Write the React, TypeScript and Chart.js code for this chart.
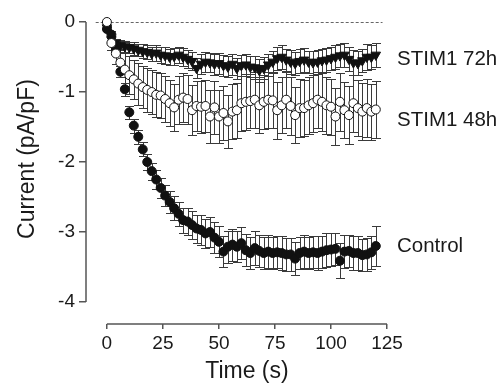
import { useEffect, useRef } from 'react';
import { Chart, registerables } from 'chart.js';

Chart.register(...registerables);

const timeS = [0, 2, 4, 6, 8, 10, 12, 14, 16, 18, 20, 22, 24, 26, 28, 30, 32, 34, 36, 38, 40, 42, 44, 46, 48, 50, 52, 54, 56, 58, 60, 62, 64, 66, 68, 70, 72, 74, 76, 78, 80, 82, 84, 86, 88, 90, 92, 94, 96, 98, 100, 102, 104, 106, 108, 110, 112, 114, 116, 118, 120];

const controlMean = [
  -0.10, -0.18, -0.40, -0.71, -0.96, -1.29, -1.48, -1.64, -1.82, -2.00,
  -2.13, -2.25, -2.37, -2.48, -2.57, -2.66, -2.74, -2.83, -2.85, -2.90,
  -2.95, -2.97, -3.02, -3.00, -3.08, -3.14, -3.28, -3.21, -3.18, -3.21,
  -3.16, -3.26, -3.30, -3.23, -3.27, -3.30, -3.28, -3.30, -3.29, -3.30,
  -3.32, -3.32, -3.38, -3.30, -3.28, -3.30, -3.29, -3.30, -3.28, -3.26,
  -3.25, -3.24, -3.41, -3.28, -3.27, -3.30, -3.30, -3.33, -3.32, -3.29,
  -3.20,
];
const controlSem = [
  0.03, 0.05, 0.07, 0.08, 0.09, 0.09, 0.10, 0.10, 0.10, 0.11,
  0.12, 0.13, 0.14, 0.15, 0.16, 0.17, 0.17, 0.18, 0.19, 0.20,
  0.20, 0.21, 0.21, 0.21, 0.22, 0.22, 0.22, 0.23, 0.23, 0.22,
  0.23, 0.23, 0.23, 0.24, 0.23, 0.23, 0.24, 0.23, 0.23, 0.24,
  0.23, 0.24, 0.24, 0.23, 0.24, 0.23, 0.23, 0.24, 0.23, 0.24,
  0.24, 0.23, 0.25, 0.24, 0.23, 0.24, 0.24, 0.23, 0.24, 0.24,
  0.29,
];

const stim72Mean = [
  -0.08, -0.25, -0.30, -0.33, -0.35, -0.36, -0.38, -0.40, -0.42, -0.43,
  -0.45, -0.44, -0.47, -0.48, -0.50, -0.49, -0.47, -0.50, -0.53, -0.56,
  -0.66, -0.60, -0.57, -0.58, -0.60, -0.59, -0.62, -0.64, -0.60, -0.66,
  -0.62, -0.61, -0.64, -0.65, -0.69, -0.66, -0.61, -0.57, -0.52, -0.50,
  -0.54, -0.57, -0.59, -0.56, -0.54, -0.57, -0.58, -0.57, -0.55, -0.54,
  -0.52, -0.50, -0.48, -0.47, -0.53, -0.58, -0.59, -0.55, -0.50, -0.50,
  -0.47,
];
const stim72Sem = [
  0.02, 0.05, 0.06, 0.07, 0.08, 0.08, 0.09, 0.09, 0.10, 0.10,
  0.10, 0.11, 0.11, 0.12, 0.12, 0.12, 0.12, 0.13, 0.13, 0.13,
  0.14, 0.14, 0.14, 0.14, 0.15, 0.15, 0.15, 0.15, 0.15, 0.15,
  0.15, 0.16, 0.15, 0.16, 0.16, 0.16, 0.16, 0.16, 0.16, 0.17,
  0.16, 0.17, 0.16, 0.17, 0.17, 0.16, 0.17, 0.17, 0.16, 0.17,
  0.17, 0.17, 0.16, 0.17, 0.17, 0.18, 0.17, 0.17, 0.18, 0.17,
  0.17,
];

const stim48Mean = [
  0.00, -0.30, -0.45, -0.58, -0.68, -0.76, -0.82, -0.88, -0.93, -0.97,
  -1.00, -1.04, -1.05, -1.10, -1.16, -1.22, -1.11, -1.08, -1.10, -1.26,
  -1.20, -1.21, -1.20, -1.35, -1.22, -1.35, -1.30, -1.42, -1.28, -1.26,
  -1.16, -1.14, -1.13, -1.11, -1.19, -1.14, -1.11, -1.12, -1.26, -1.19,
  -1.11, -1.20, -1.33, -1.23, -1.23, -1.19, -1.16, -1.11, -1.14, -1.19,
  -1.21, -1.35, -1.14, -1.26, -1.33, -1.16, -1.23, -1.28, -1.23, -1.28,
  -1.25,
];
const stim48Sem = [
  0.00, 0.10, 0.15, 0.20, 0.24, 0.27, 0.28, 0.30, 0.30, 0.31,
  0.31, 0.32, 0.32, 0.33, 0.33, 0.34, 0.34, 0.35, 0.35, 0.36,
  0.36, 0.37, 0.37, 0.38, 0.38, 0.38, 0.39, 0.38, 0.39, 0.39,
  0.39, 0.40, 0.39, 0.40, 0.40, 0.39, 0.40, 0.40, 0.41, 0.40,
  0.40, 0.41, 0.40, 0.41, 0.40, 0.41, 0.41, 0.40, 0.41, 0.41,
  0.40, 0.41, 0.41, 0.40, 0.41, 0.41, 0.40, 0.41, 0.41, 0.40,
  0.41,
];

const xTicks = [0, 25, 50, 75, 100, 125];
const yTicks = [-4, -3, -2, -1, 0];
const seriesNames = ['STIM1 48h', 'STIM1 72h', 'Control'];
// current level (pA/pF) beside which each series name is written
const nameLevels = [-1.4, -0.54, -3.21];
const xTitle = 'Time (s)';
const yTitle = 'Current (pA/pF)';

const FONT = "'Liberation Sans', Arial, Helvetica, sans-serif";
const semSets = [stim48Sem, stim72Sem, controlSem];

const decorPlugin = {
  id: 'decor',
  beforeDatasetsDraw(chart: any) {
    const { ctx, scales } = chart;
    const x = scales.x;
    const y = scales.y;
    ctx.save();
    // dashed zero line
    ctx.strokeStyle = '#666';
    ctx.lineWidth = 1;
    ctx.setLineDash([3, 2]);
    const y0 = Math.round(y.getPixelForValue(0)) + 0.5;
    ctx.beginPath();
    ctx.moveTo(x.getPixelForValue(-5), y0);
    ctx.lineTo(x.getPixelForValue(123), y0);
    ctx.stroke();
    ctx.setLineDash([]);
    // error bars
    ctx.strokeStyle = '#3a3a3a';
    ctx.lineWidth = 1;
    const cap = 4.5;
    for (let d = chart.data.datasets.length - 1; d >= 0; d--) {
      const ds = chart.data.datasets[d];
      const sem = semSets[d];
      ds.data.forEach((p: any, i: number) => {
        const e = sem[i];
        if (!e) return;
        const px = Math.round(x.getPixelForValue(p.x)) + 0.5;
        const top = Math.round(y.getPixelForValue(p.y + e)) + 0.5;
        const bot = Math.round(y.getPixelForValue(p.y - e)) + 0.5;
        ctx.beginPath();
        ctx.moveTo(px, top);
        ctx.lineTo(px, bot);
        ctx.moveTo(px - cap, top);
        ctx.lineTo(px + cap, top);
        ctx.moveTo(px - cap, bot);
        ctx.lineTo(px + cap, bot);
        ctx.stroke();
      });
    }
    ctx.restore();
  },
  afterDraw(chart: any) {
    const { ctx, scales, chartArea } = chart;
    const x = scales.x;
    const y = scales.y;
    ctx.save();
    // offset axis lines
    ctx.strokeStyle = '#555';
    ctx.lineWidth = 1.5;
    ctx.beginPath();
    ctx.moveTo(chartArea.left, y.getPixelForValue(yTicks[yTicks.length - 1]));
    ctx.lineTo(chartArea.left, y.getPixelForValue(yTicks[0]));
    ctx.stroke();
    ctx.beginPath();
    ctx.moveTo(x.getPixelForValue(xTicks[0]), chartArea.bottom);
    ctx.lineTo(x.getPixelForValue(xTicks[xTicks.length - 1]), chartArea.bottom);
    ctx.stroke();
    // series names
    ctx.fillStyle = '#1a1a1a';
    ctx.font = `20.5px ${FONT}`;
    ctx.textAlign = 'left';
    ctx.textBaseline = 'middle';
    seriesNames.forEach((name, i) => {
      ctx.fillText(name, chartArea.right + 10, y.getPixelForValue(nameLevels[i]));
    });
    // axis titles
    ctx.font = `23px ${FONT}`;
    ctx.textAlign = 'center';
    const xc = (x.getPixelForValue(xTicks[0]) + x.getPixelForValue(xTicks[xTicks.length - 1])) / 2;
    ctx.fillText(xTitle, xc, chartArea.bottom + 48);
    const yc = (y.getPixelForValue(yTicks[0]) + y.getPixelForValue(yTicks[yTicks.length - 1])) / 2 - 3;
    ctx.translate(28, yc);
    ctx.rotate(-Math.PI / 2);
    ctx.fillText(yTitle, 0, 0);
    ctx.restore();
  },
};

export default function App() {
  const ref = useRef<HTMLCanvasElement | null>(null);
  useEffect(() => {
    if (!ref.current) return;
    const mk = (m: number[]) => timeS.map((t, i) => ({ x: t, y: m[i] }));
    const chart = new Chart(ref.current, {
      type: 'scatter',
      data: {
        datasets: [
          {
            label: seriesNames[0],
            data: mk(stim48Mean),
            pointStyle: 'circle',
            pointRadius: 4.5,
            pointBackgroundColor: '#ffffff',
            pointBorderColor: '#111',
            pointBorderWidth: 1,
            showLine: false,
          },
          {
            label: seriesNames[1],
            data: mk(stim72Mean),
            pointStyle: 'triangle',
            pointRotation: 180,
            pointRadius: 5.5,
            pointBackgroundColor: '#111',
            pointBorderColor: '#111',
            pointBorderWidth: 1,
            showLine: false,
          },
          {
            label: seriesNames[2],
            data: mk(controlMean),
            pointStyle: 'circle',
            pointRadius: 4.5,
            pointBackgroundColor: '#111',
            pointBorderColor: '#111',
            pointBorderWidth: 1,
            showLine: false,
          },
        ],
      },
      options: {
        animation: false,
        responsive: false,
        events: [],
        layout: { padding: { top: 10, right: 114, bottom: 0, left: 0 } },
        plugins: { legend: { display: false }, tooltip: { enabled: false } },
        scales: {
          x: {
            type: 'linear',
            min: -9.33,
            max: 125,
            afterFit: (s: any) => { s.height = 60; s.paddingLeft = 0; s.paddingRight = 0; },
            afterBuildTicks: (s: any) => { s.ticks = xTicks.map((v) => ({ value: v })); },
            border: { display: false },
            grid: { display: true, drawOnChartArea: false, drawTicks: true, tickLength: 5, color: '#555', lineWidth: 1.5 },
            ticks: { font: { family: FONT, size: 19 }, color: '#1a1a1a', padding: 3, maxRotation: 0, autoSkip: false, callback: (v: any) => String(v) },
          },
          y: {
            type: 'linear',
            min: -4.314,
            max: 0.1714,
            afterFit: (s: any) => { s.width = 86; s.paddingTop = 0; s.paddingBottom = 0; },
            afterBuildTicks: (s: any) => { s.ticks = yTicks.map((v) => ({ value: v })); },
            border: { display: false },
            grid: { display: true, drawOnChartArea: false, drawTicks: true, tickLength: 7, color: '#555', lineWidth: 1.5 },
            ticks: { font: { family: FONT, size: 19 }, color: '#1a1a1a', padding: 4, autoSkip: false, callback: (v: any) => String(v) },
          },
        },
      },
      plugins: [decorPlugin],
    });
    return () => chart.destroy();
  }, []);
  return (
    <div style={{ position: 'absolute', left: 0, top: 0, width: 501, height: 384, background: '#fff' }}>
      <canvas ref={ref} width={501} height={384} style={{ display: 'block' }} />
    </div>
  );
}
